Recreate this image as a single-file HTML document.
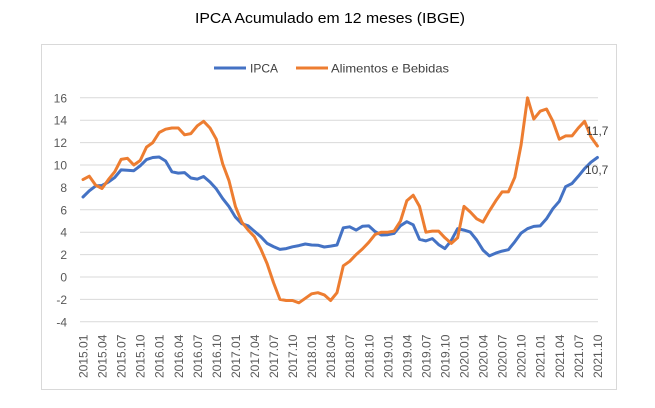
<!DOCTYPE html>
<html><head><meta charset="utf-8"><style>
body{margin:0;background:#fff;width:655px;height:403px;overflow:hidden;font-family:"Liberation Sans",sans-serif}
</style></head><body>
<svg id="s" width="655" height="403" xmlns="http://www.w3.org/2000/svg" font-family="Liberation Sans, sans-serif">
<rect x="0" y="0" width="655" height="403" fill="#fff"/>
<rect x="41.5" y="44.5" width="575" height="345" fill="none" stroke="#d9d9d9"/>
<text x="195" y="23" font-size="14.5" textLength="270" lengthAdjust="spacingAndGlyphs" fill="#000">IPCA Acumulado em 12 meses (IBGE)</text>
<line x1="214" y1="68" x2="246" y2="68" stroke="#4472c4" stroke-width="3"/>
<text x="250" y="72.5" font-size="12" fill="#404040">IPCA</text>
<line x1="296" y1="68" x2="328" y2="68" stroke="#ed7d31" stroke-width="3"/>
<text x="331" y="72.5" font-size="12" textLength="118" lengthAdjust="spacingAndGlyphs" fill="#404040">Alimentos e Bebidas</text>
<g id="g"></g>
<text x="586" y="135" font-size="12" fill="#404040">11,7</text>
<text x="585" y="174" font-size="12" fill="#404040">10,7</text>
</svg>
<script>
var ipca=[7.14,7.70,8.13,8.17,8.47,8.89,9.56,9.53,9.49,9.93,10.48,10.67,10.71,10.36,9.39,9.28,9.32,8.84,8.74,8.97,8.48,7.87,7.00,6.29,5.35,4.76,4.57,4.08,3.60,3.00,2.71,2.46,2.54,2.70,2.80,2.95,2.86,2.84,2.68,2.76,2.86,4.39,4.48,4.19,4.53,4.56,4.05,3.75,3.78,3.89,4.58,4.94,4.66,3.37,3.22,3.43,2.89,2.54,3.27,4.31,4.19,4.01,3.30,2.40,1.88,2.13,2.31,2.44,3.14,3.92,4.31,4.52,4.56,5.20,6.10,6.76,8.06,8.35,8.99,9.68,10.25,10.67];
var ali=[8.7,9.0,8.2,7.9,8.7,9.4,10.5,10.6,10.0,10.4,11.6,12.0,12.9,13.2,13.3,13.3,12.7,12.8,13.5,13.9,13.3,12.3,10.1,8.6,6.3,4.9,4.2,3.6,2.5,1.2,-0.5,-2.0,-2.1,-2.1,-2.3,-1.9,-1.5,-1.4,-1.6,-2.1,-1.4,1.0,1.4,2.0,2.5,3.1,3.8,4.0,4.0,4.1,5.0,6.8,7.3,6.3,4.0,4.1,4.1,3.5,3.0,3.5,6.3,5.8,5.2,4.9,5.9,6.8,7.6,7.6,8.9,11.8,16.0,14.1,14.8,15.0,13.9,12.3,12.6,12.6,13.3,13.9,12.5,11.7];
var x0=83,dx=6.35,y0=277,k=11.2,h='';
for(var v=-4;v<=16;v+=2){var y=y0-v*k;h+='<line x1="80" x2="598" y1="'+y+'" y2="'+y+'" stroke="#d9d9d9" stroke-width="1"/>';
h+='<text x="67" y="'+(y+4.5)+'" font-size="12" text-anchor="end" fill="#595959">'+v+'</text>';}
for(var i=0;i<82;i+=3){var yr=2015+Math.floor(i/12),m=i%12+1;var lab=yr+'.'+(m<10?'0':'')+m;var x=x0+i*dx;
h+='<text transform="translate('+(x+4.5)+',378) rotate(-90)" font-size="12" fill="#595959">'+lab+'</text>';}
function pl(d,c){var p=d.map(function(v,i){return (x0+i*dx).toFixed(1)+','+(y0-v*k).toFixed(1)}).join(' ');
return '<polyline points="'+p+'" fill="none" stroke="'+c+'" stroke-width="3" stroke-linejoin="round" stroke-linecap="round"/>';}
h+=pl(ipca,'#4472c4')+pl(ali,'#ed7d31');
document.getElementById('g').innerHTML=h;
</script>
</body></html>
